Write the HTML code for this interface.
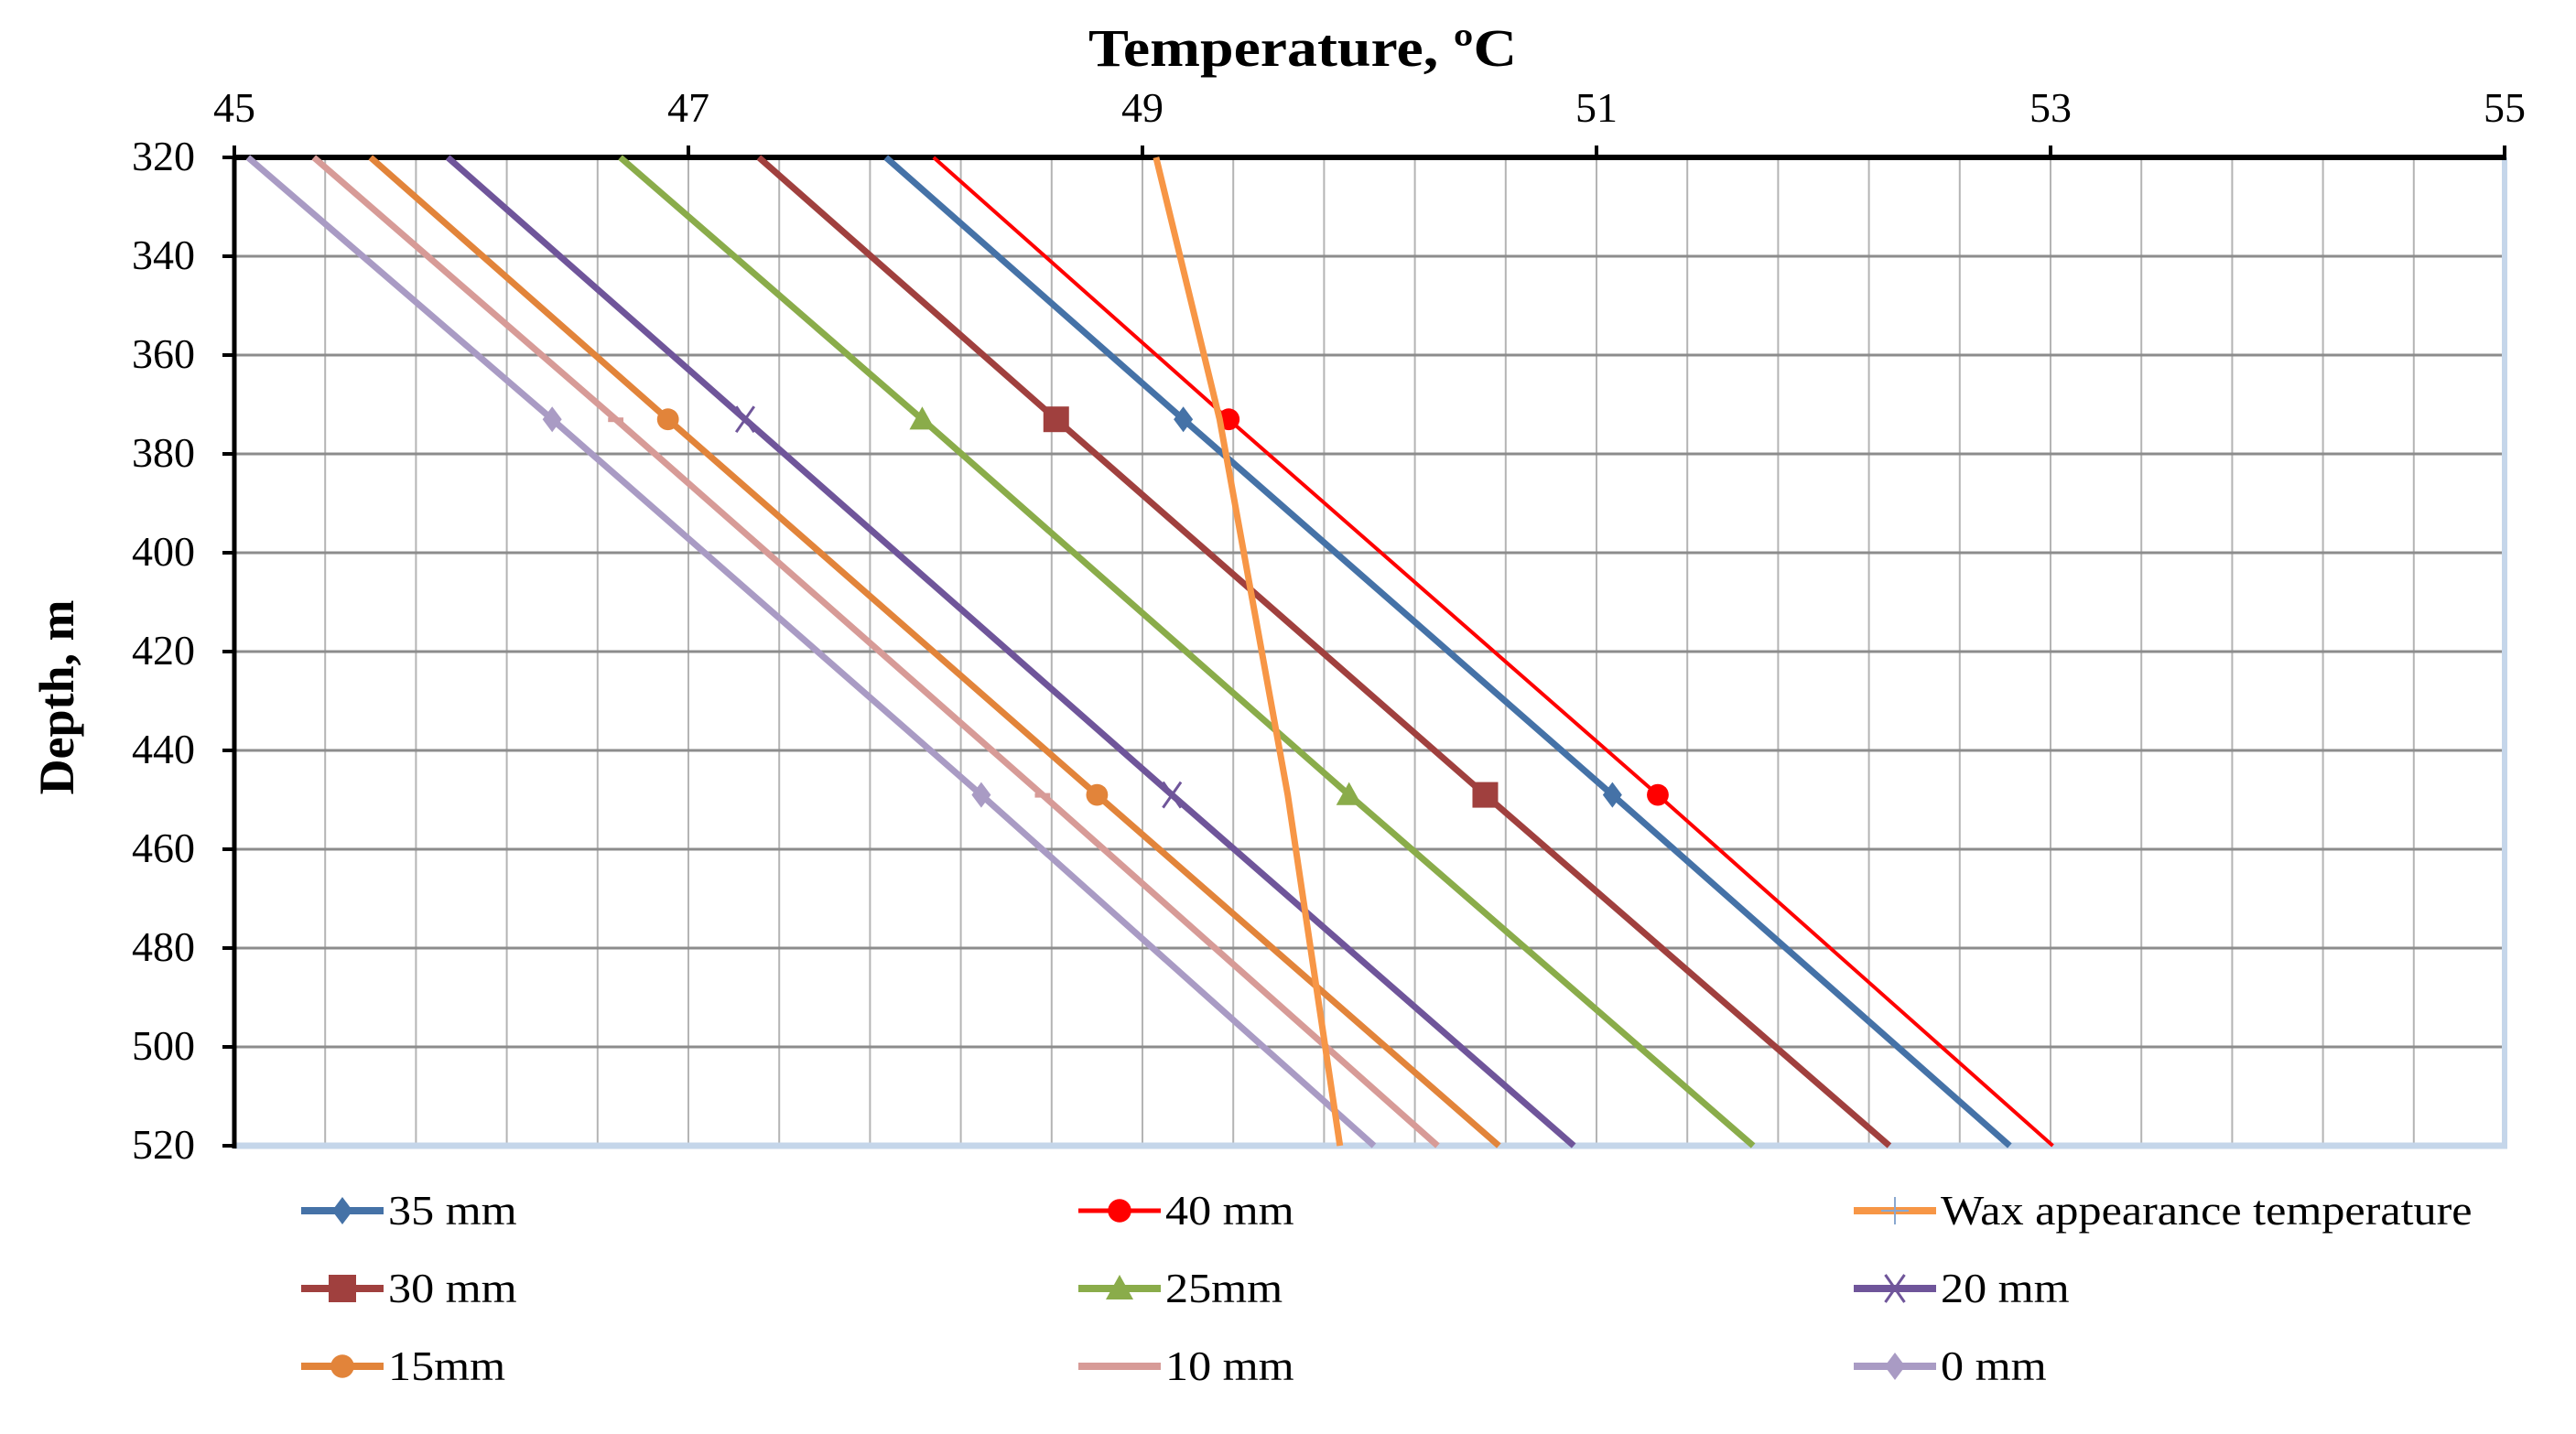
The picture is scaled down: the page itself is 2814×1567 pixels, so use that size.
<!DOCTYPE html>
<html><head><meta charset="utf-8"><style>
html,body{margin:0;padding:0;background:#fff}
svg{display:block}
text{font-family:"Liberation Serif",serif;fill:#000}
</style></head><body>
<svg id="chart" width="2814" height="1567" viewBox="0 0 2814 1567" xmlns="http://www.w3.org/2000/svg">
<text x="1423" y="72" font-size="58" font-weight="bold" text-anchor="middle" textLength="468" lengthAdjust="spacingAndGlyphs">Temperature, ºC</text>
<text transform="translate(80,762) rotate(-90)" font-size="54" font-weight="bold" text-anchor="middle">Depth, m</text>
<g id="grid"></g><g id="axes"></g><g id="series"></g><g id="legend"></g>
</svg>
<script>
const depths = [320, 373, 449, 520];
const seriesNames = ["35 mm","40 mm","Wax appearance temperature","30 mm","25mm","20 mm","15mm","10 mm","0 mm"];
const s35 = [47.87, 49.18, 51.07, 52.82];
const s40 = [48.08, 49.38, 51.27, 53.01];
const sWax = [49.06, 49.34, 49.64, 49.87];
const s30 = [47.31, 48.62, 50.51, 52.29];
const s25 = [46.70, 48.03, 49.91, 51.69];
const s20 = [45.94, 47.25, 49.13, 50.90];
const s15 = [45.60, 46.91, 48.80, 50.57];
const s10 = [45.35, 46.68, 48.56, 50.30];
const s0 = [45.06, 46.40, 48.29, 50.02];
const xTicks = [45, 47, 49, 51, 53, 55];
const yTicks = [320, 340, 360, 380, 400, 420, 440, 460, 480, 500, 520];

const NS = "http://www.w3.org/2000/svg";
const X0 = 256, X1 = 2736, Y0 = 172, Y1 = 1252;
const xS = t => X0 + (t - 45) / 10 * (X1 - X0);
const yS = d => Y0 + (d - 320) / 200 * (Y1 - Y0);
function mk(tag, attrs, parent) { const e = document.createElementNS(NS, tag); for (const k in attrs) e.setAttribute(k, attrs[k]); parent.appendChild(e); return e; }

const grid = document.getElementById('grid');
for (let t = 45.4; t < 55; t += 0.4) {
  const l = mk('line', {x1: xS(t), x2: xS(t), y1: Y0, y2: Y1, stroke: '#b4b4b4', 'stroke-width': 2}, grid);
  
  
}
yTicks.forEach(d => {
  const l = mk('line', {x1: X0, x2: X1, y1: yS(d), y2: yS(d), stroke: '#8c8c8c', 'stroke-width': 3}, grid);
  
  
});

const axes = document.getElementById('axes');
let a;
a = mk('line', {x1: X1, x2: X1, y1: Y0, y2: Y1, stroke: '#c5d6ea', 'stroke-width': 6}, axes);
 
a = mk('line', {x1: X0, x2: X1 + 3, y1: Y1, y2: Y1, stroke: '#c5d6ea', 'stroke-width': 7}, axes);
 
a = mk('line', {x1: X0, x2: X0, y1: Y0, y2: Y1 + 3, stroke: '#000', 'stroke-width': 5}, axes);
 
a = mk('line', {x1: X0 - 2, x2: X1 + 2, y1: Y0, y2: Y0, stroke: '#000', 'stroke-width': 6}, axes);
 
xTicks.forEach(t => {
  const tk = mk('line', {x1: xS(t), x2: xS(t), y1: Y0 - 13, y2: Y0, stroke: '#000', 'stroke-width': 4}, axes);
   
  const tx = mk('text', {x: xS(t), y: 133, 'font-size': 46, 'text-anchor': 'middle'}, axes);
  tx.textContent = t;
   
});
yTicks.forEach(d => {
  const tk = mk('line', {x1: X0 - 13, x2: X0, y1: yS(d), y2: yS(d), stroke: '#000', 'stroke-width': 4}, axes);
   
  const tx = mk('text', {x: 213, y: yS(d) + 14, 'font-size': 46, 'text-anchor': 'end'}, axes);
  tx.textContent = d;
   
});

const seriesVals = [s35, s40, sWax, s30, s25, s20, s15, s10, s0];
const colors = ['#4572a7', '#ff0000', '#f79646', '#a0403e', '#8aac4a', '#6f559a', '#e2843a', '#d79b97', '#a99bc4'];
const widths = [7, 4, 7, 7, 7, 7, 7, 7, 7];
const markers = ['diamond', 'circle', 'plus', 'square', 'triangle', 'x', 'circle', 'dash', 'diamond'];
const ids = ['35mm', '40mm', 'wax', '30mm', '25mm', '20mm', '15mm', '10mm', '0mm'];

function marker(type, cx, cy, c, g, sz) {
  let m;
  if (type === 'diamond') m = mk('polygon', {points: `${cx},${cy-sz} ${cx+sz*0.75},${cy} ${cx},${cy+sz} ${cx-sz*0.75},${cy}`, fill: c}, g);
  else if (type === 'circle') m = mk('circle', {cx, cy, r: sz * 0.85, fill: c}, g);
  else if (type === 'square') m = mk('rect', {x: cx - sz, y: cy - sz, width: sz * 2, height: sz * 2, fill: c}, g);
  else if (type === 'triangle') m = mk('polygon', {points: `${cx},${cy-sz} ${cx+sz},${cy+sz*0.8} ${cx-sz},${cy+sz*0.8}`, fill: c}, g);
  else if (type === 'x') m = mk('path', {d: `M${cx-sz*0.7},${cy+sz} L${cx+sz*0.7},${cy-sz} M${cx-sz*0.7},${cy-sz} L${cx+sz*0.7},${cy+sz}`, stroke: c, 'stroke-width': 3, fill: 'none'}, g);
  else if (type === 'dash') m = mk('rect', {x: cx - sz * 0.6, y: cy - 2, width: sz * 1.2, height: 5, fill: c}, g);
  else m = mk('path', {d: `M${cx-sz},${cy} L${cx+sz},${cy} M${cx},${cy-sz} L${cx},${cy+sz}`, stroke: '#8aa8d0', 'stroke-width': 2, fill: 'none'}, g);
  return m;
}

const sg = document.getElementById('series');
const order = [8, 7, 6, 5, 4, 3, 0, 1, 2];
order.forEach(i => {
  const vals = seriesVals[i];
  const g = mk('g', {}, sg);
  
  
  const pts = vals.map((v, k) => `${xS(v)},${yS(depths[k])}`).join(' ');
  const pl = mk('polyline', {points: pts, fill: 'none', stroke: colors[i], 'stroke-width': widths[i]}, g);
  
  
  if (i !== 2) {
    for (let k = 1; k < vals.length - 1; k++) {
      const m = marker(markers[i], xS(vals[k]), yS(depths[k]), colors[i], g, 14);
      
      
    }
  }
});

const lg = document.getElementById('legend');
const colX = [329, 1178, 2025];
const rowY = [1323, 1408, 1493];
seriesNames.forEach((name, i) => {
  const cx = colX[i % 3], cy = rowY[Math.floor(i / 3)];
  const g = mk('g', {}, lg);
  
  
  mk('line', {x1: cx, x2: cx + 90, y1: cy, y2: cy, stroke: colors[i], 'stroke-width': widths[i] + 1}, g);
  marker(markers[i], cx + 45, cy, colors[i], g, 15);
  const t = mk('text', {x: cx + 95, y: cy + 15, 'font-size': 46}, g);
  t.textContent = name;
  const w = t.getComputedTextLength();
  t.setAttribute('textLength', w * 1.09);
  t.setAttribute('lengthAdjust', 'spacingAndGlyphs');
});
</script>
</body></html>
